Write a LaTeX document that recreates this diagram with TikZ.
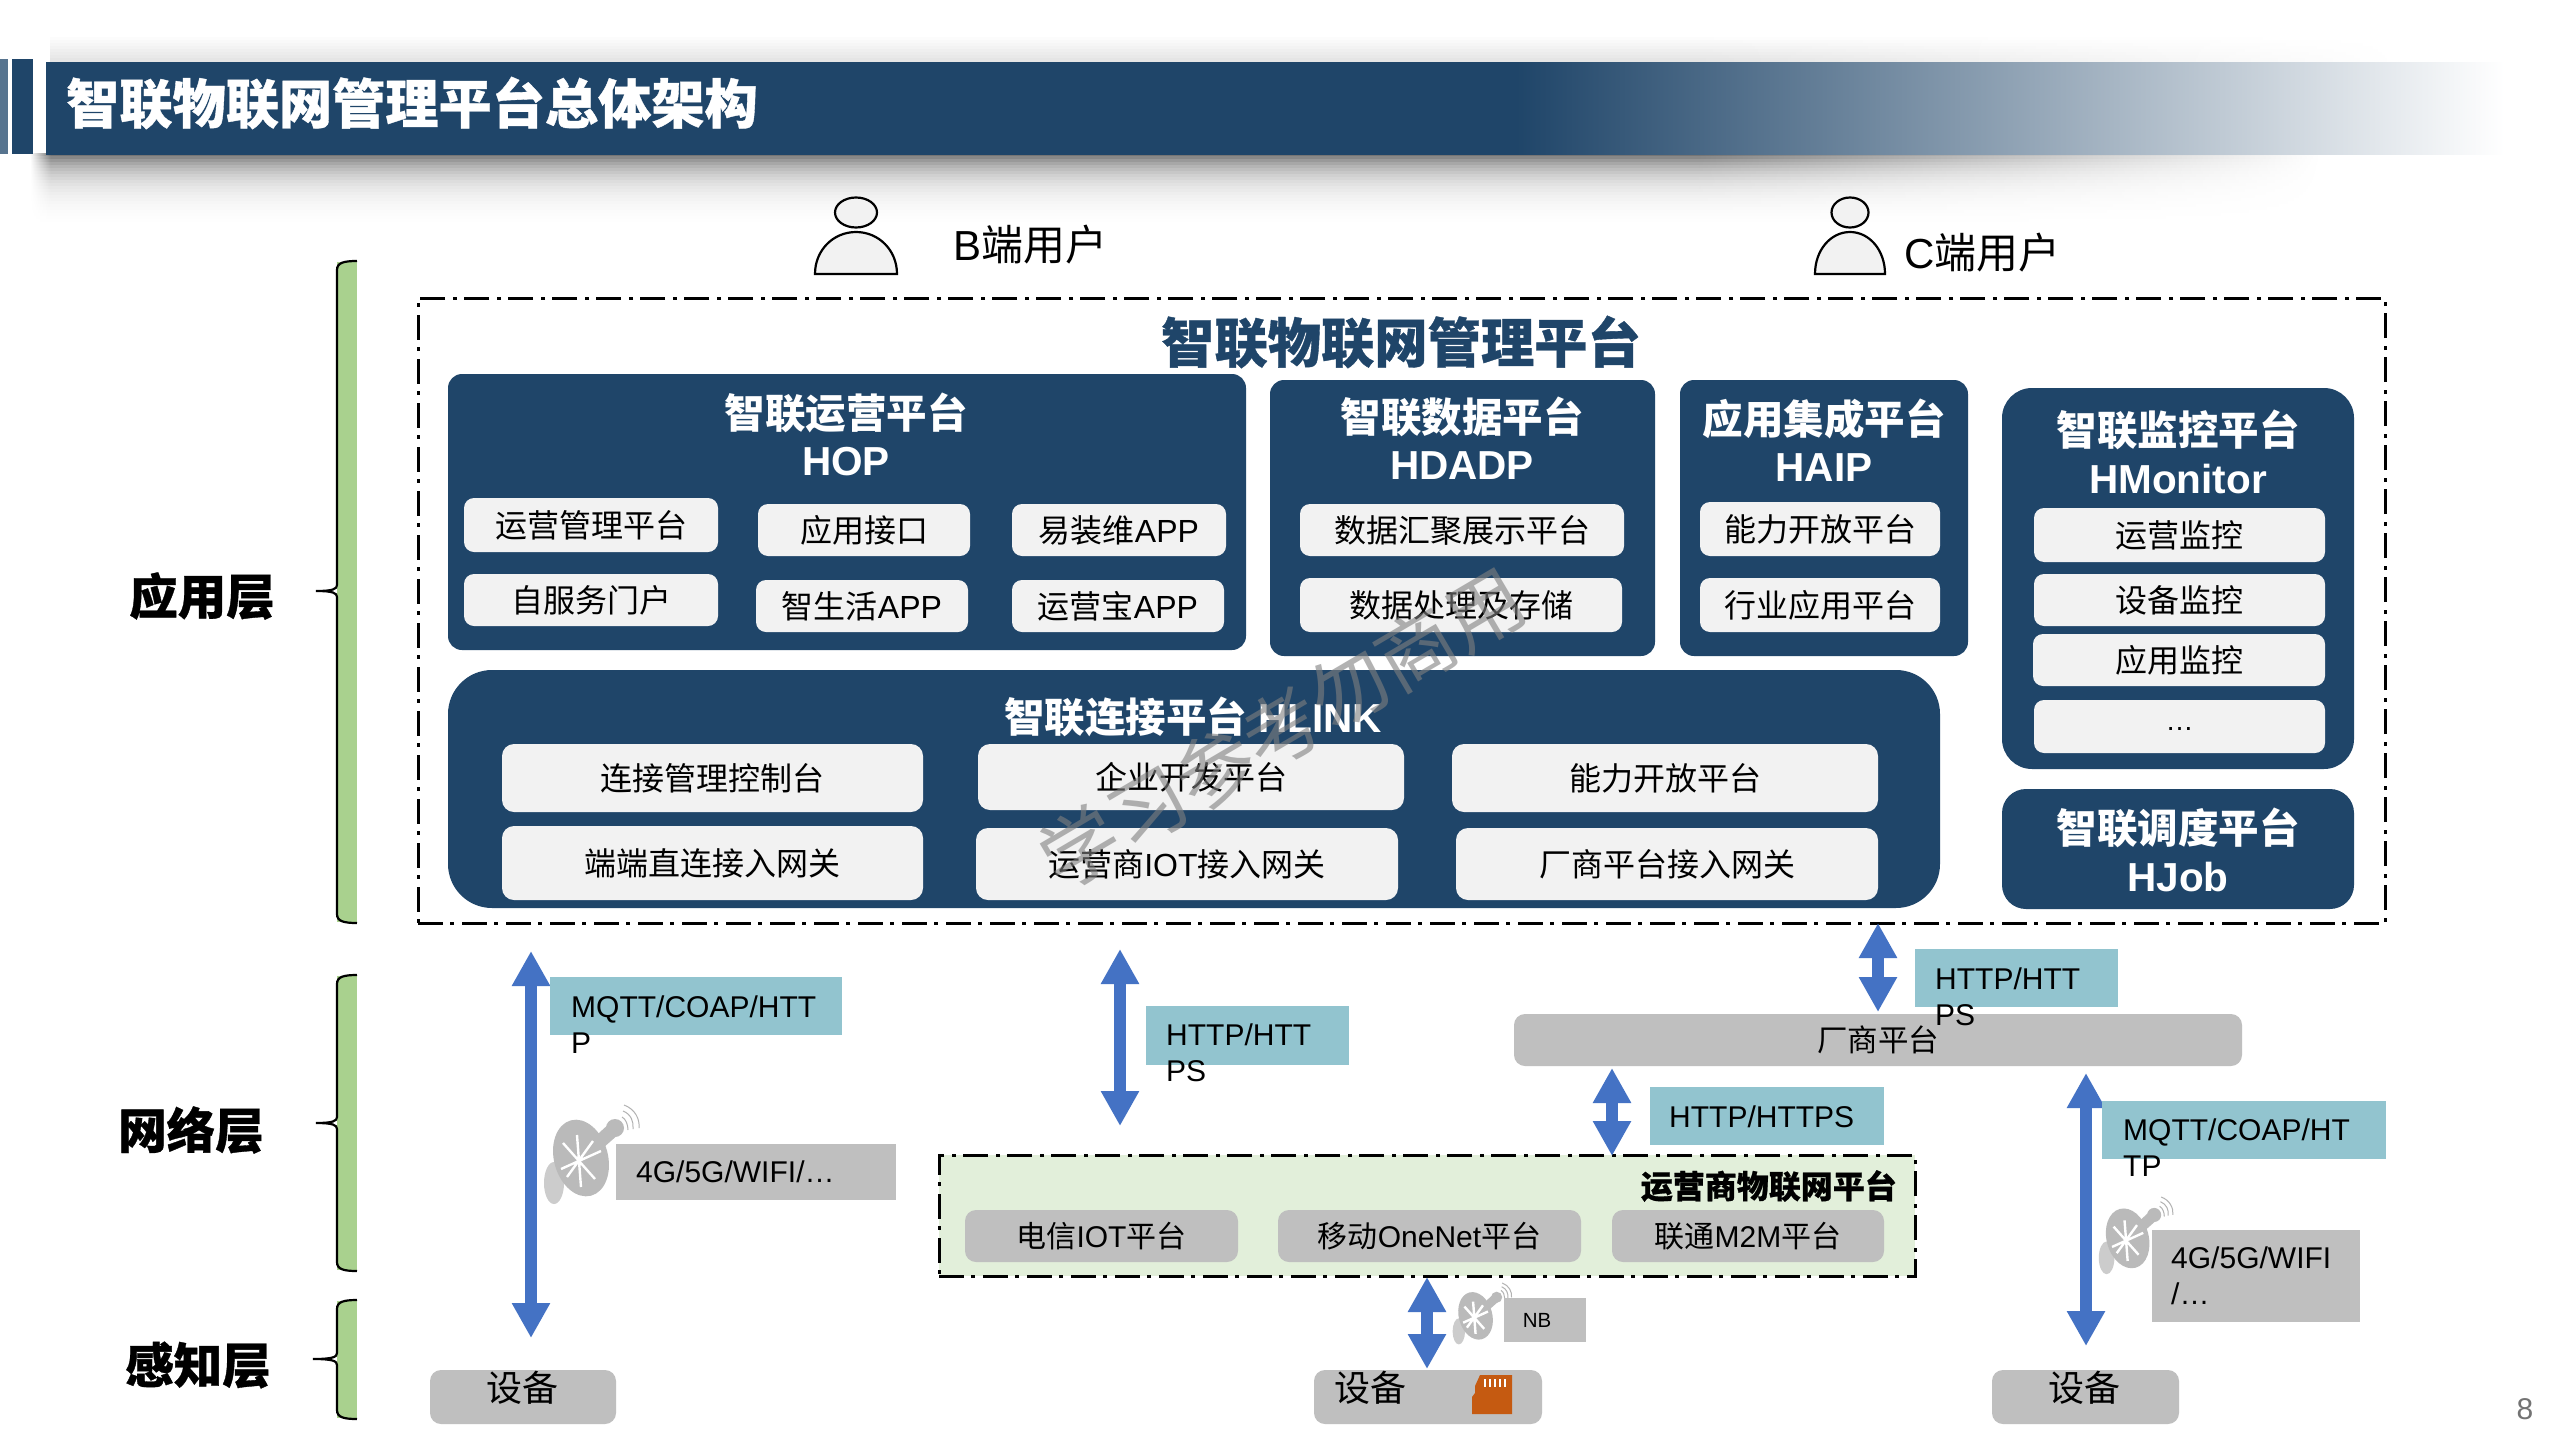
\documentclass[tikz,border=0pt]{standalone}
\usepackage{fontspec}
\usetikzlibrary{arrows.meta,shapes.geometric}
\setmainfont{Liberation Sans}
\newfontfamily\cjk{Noto Sans CJK SC}
\newfontfamily\cjkheavy[BoldFeatures={FakeBold=0.7}]{Noto Sans CJK SC}
\newcommand\zh[1]{{\cjk #1}}
\newcommand\fs[1]{\fontsize{#1}{#1}\selectfont}
\definecolor{navy}{HTML}{1F4569}
\definecolor{panel}{HTML}{F2F2F2}
\definecolor{steel}{HTML}{BFBFBF}
\definecolor{teal}{HTML}{92C4CF}
\definecolor{leaf}{HTML}{A9D18E}
\definecolor{pale}{HTML}{E2EFDA}
\definecolor{flow}{HTML}{4472C4}
\definecolor{chip}{HTML}{C55A11}
% the path's extent spans 25bp to 75bp of a TikZ shading
\pgfdeclarehorizontalshading{bandfade}{100bp}{color(0bp)=(navy); color(54.9bp)=(navy); color(75bp)=(white); color(100bp)=(white)}
\tikzset{
  platform/.style={fill=navy,rounded corners=14pt,inner sep=0pt,outer sep=0pt},
  module/.style={fill=panel,rounded corners=10pt,inner sep=0pt,outer sep=0pt,font=\cjk\fs{32}},
  hubmodule/.style={module,rounded corners=12pt},
  carrier/.style={fill=steel,rounded corners=11pt,inner sep=0pt,outer sep=0pt,font=\fs{30}},
  tealtag/.style={fill=teal,inner sep=0pt,outer sep=0pt},
  greytag/.style={fill=steel,inner sep=0pt,outer sep=0pt},
  device/.style={fill=steel,rounded corners=11pt,inner sep=0pt,outer sep=0pt},
  dashframe/.style={draw=black,line width=3pt,dash pattern=on 25pt off 7pt on 4pt off 8pt,inner sep=0pt,outer sep=0pt},
  headline/.style={text=white,inner sep=0pt,align=center,font=\bfseries\fs{40.5}},
  proto/.style={inner sep=0pt,anchor=west,align=left,font=\fontsize{30}{36}\selectfont},
  sidelabel/.style={inner sep=0pt,font=\cjkheavy\bfseries\fs{48.5}},
  duplex/.style={draw=flow,line width=12pt,
                 {Triangle[width=36pt,length=35pt]}-{Triangle[width=36pt,length=35pt]}},
  dish/.pic={
    \fill[black!20] (11,78) ellipse [x radius=10,y radius=21];
    \fill[black!27,rotate around={15:(38,53)}] (38,53) ellipse [x radius=27,y radius=39];
    \fill[black!27] (33,49) -- (68,17) -- (77,28) -- (43,58) -- cycle;
    \fill[black!27] (72,23) circle [radius=9];
    \draw[white,line width=2.4pt] (20,38) -- (52,74) (34,30) -- (38,82) (18,64) -- (58,46) (24,72) -- (50,36);
    \foreach \a/\b/\c/\d/\e/\f/\g/\h in {81/0/92/4/97/14/96/23, 80/6/88/9/91/17/90/24, 79/12/83/14/85/20/85/25}
      \draw[black!30,line width=1pt] (\a,\b) .. controls (\c,\d) and (\e,\f) .. (\g,\h);
  }
}
% box given by its left, top, right and bottom edges
\newcommand\rbox[7]{\node[#2,minimum width={#5-#3},minimum height={#6-#4}] (#1) at ({(#3+#5)/2},{(#4+#6)/2}) {#7};}
% layer bracket: top, tick and bottom heights, tick tip
\newcommand\layerbrace[4]{
  \fill[leaf] (337,#1+1) rectangle (357,#3-1);
  \draw[line width=2.2pt] (357,#1) .. controls (343,#1) and (337,#1+2) .. (337,#1+9)
     -- (337,#2-6) .. controls (337,#2-2) and (333,#2) .. (#4,#2)
     .. controls (333,#2) and (337,#2+2) .. (337,#2+6)
     -- (337,#3-9) .. controls (337,#3-2) and (343,#3) .. (357,#3);
}
% user glyph: centre x, head half width, body half width
\newcommand\persona[3]{
  \draw[fill=panel,line width=2.2pt] (#1,212.5) ellipse [x radius=#2,y radius=15];
  \draw[fill=panel,line width=2.2pt] (#1-#3,274) .. controls (#1-#3,250) and (#1-#3*0.55,232) .. (#1,232)
     .. controls (#1+#3*0.55,232) and (#1+#3,250) .. (#1+#3,274) -- cycle;
}
\begin{document}
\begin{tikzpicture}[x=1pt,y=-1pt]
\useasboundingbox (0,0) rectangle (2560,1440);
\fill[white] (0,0) rectangle (2560,1440);

% title band with its soft shadow
\foreach \k in {0,...,24}{
  \pgfmathsetmacro\lvl{max(0,56*exp(-\k/7)-2)}
  \fill[black!\lvl] (50,{153+3*\k}) rectangle (1700,{156.5+3*\k});
  \shade[left color=black!\lvl,right color=white] (1699,{153+3*\k}) rectangle (2320,{156.5+3*\k});
  \shade[left color=white,right color=black!\lvl] (30,{153+3*\k}) rectangle (50.5,{156.5+3*\k});
}
\foreach \k in {0,...,7}{
  \pgfmathsetmacro\lvl{1+1.3*\k}
  \fill[black!\lvl] (50,{37+3*\k}) rectangle (1700,{40.5+3*\k});
  \shade[left color=black!\lvl,right color=white] (1699,{37+3*\k}) rectangle (2400,{40.5+3*\k});
}
\path[shading=bandfade] (46,62) rectangle (2504,154);
\fill[navy!75] (0,59) rectangle (8,154);
\fill[navy] (12,59) rectangle (33,154);
\node[anchor=west,inner sep=0pt,text=white,font=\cjkheavy\bfseries\fs{53.2}] (pagetitle) at (66,103) {智联物联网管理平台总体架构};

% layer brackets and their names
\layerbrace{261}{591}{923}{316}
\layerbrace{975}{1123}{1271}{316}
\layerbrace{1300}{1359}{1419}{313}
\node[sidelabel] (layerapp) at (202,596) {应用层};
\node[sidelabel] (layernet) at (191,1130) {网络层};
\node[sidelabel] (layersense) at (198,1365) {感知层};

% users
\persona{856}{21}{41}
\persona{1850}{18.5}{35}
\node[inner sep=0pt,anchor=west,font=\fs{42}] (buser) at (953,245) {B\zh{端用户}};
\node[inner sep=0pt,anchor=west,font=\fs{42}] (cuser) at (1904,253) {C\zh{端用户}};

% management platform frame
\rbox{frame}{dashframe}{418}{298}{2385}{923}{}
\node[inner sep=0pt,text=navy,font=\cjkheavy\bfseries\fs{53.3}] (maintitle) at (1401,342) {智联物联网管理平台};

% operations platform
\rbox{hop}{platform}{448}{374}{1246}{650}{}
\node[headline,font=\bfseries\fontsize{40.5}{47}\selectfont] (hoptitle) at (846,434.5) {\zh{智联运营平台}\\HOP};
\rbox{hopa}{module}{464}{498}{718}{552}{运营管理平台}
\rbox{hopb}{module}{464}{574}{718}{626}{自服务门户}
\rbox{hopc}{module}{758}{504}{970}{556}{应用接口}
\rbox{hopd}{module}{1012}{504}{1226}{556}{易装维\fontspec{Liberation Sans}APP}
\rbox{hope}{module}{756}{580}{968}{632}{智生活\fontspec{Liberation Sans}APP}
\rbox{hopf}{module}{1012}{580}{1224}{632}{运营宝\fontspec{Liberation Sans}APP}

% data platform
\rbox{hdadp}{platform}{1270}{380}{1655}{656}{}
\node[headline,font=\bfseries\fontsize{40.5}{47}\selectfont] (hdadptitle) at (1462,438) {\zh{智联数据平台}\\HDADP};
\rbox{hdadpa}{module}{1300}{504}{1624}{556}{数据汇聚展示平台}
\rbox{hdadpb}{module}{1300}{578}{1622}{632}{数据处理及存储}

% integration platform
\rbox{haip}{platform}{1680}{380}{1968}{656}{}
\node[headline,font=\bfseries\fontsize{40.5}{47}\selectfont] (haiptitle) at (1824,440.5) {\zh{应用集成平台}\\HAIP};
\rbox{haipa}{module}{1700}{502}{1940}{556}{能力开放平台}
\rbox{haipb}{module}{1700}{578}{1940}{632}{行业应用平台}

% monitoring platform
\rbox{hmon}{platform,rounded corners=30pt}{2002}{388}{2354}{769}{}
\node[headline,font=\bfseries\fontsize{40.5}{48}\selectfont] (hmontitle) at (2178,452) {\zh{智联监控平台}\\HMonitor};
\rbox{hmona}{module}{2034}{508}{2325}{562}{运营监控}
\rbox{hmonb}{module}{2034}{574}{2325}{626}{设备监控}
\rbox{hmonc}{module}{2033}{634}{2325}{686}{应用监控}
\rbox{hmond}{module,font=\fs{28}}{2034}{700}{2325}{753}{\raisebox{-7pt}{…}}

% scheduling platform
\rbox{hjob}{platform,rounded corners=24pt}{2002}{789}{2354}{909}{}
\node[headline,font=\bfseries\fontsize{40.5}{48}\selectfont] (hjobtitle) at (2178,850) {\zh{智联调度平台}\\HJob};

% connection platform
\rbox{hlink}{platform,rounded corners=44pt}{448}{670}{1940}{908}{}
\node[headline] (hlinktitle) at (1193,717) {\zh{智联连接平台} HLINK};
\rbox{hlinka}{hubmodule}{502}{744}{923}{812}{连接管理控制台}
\rbox{hlinkb}{hubmodule}{502}{826}{923}{900}{端端直连接入网关}
\rbox{hlinkc}{hubmodule}{978}{744}{1404}{810}{企业开发平台}
\rbox{hlinkd}{hubmodule}{976}{828}{1398}{900}{运营商\fontspec{Liberation Sans}IOT\cjk 接入网关}
\rbox{hlinke}{hubmodule}{1452}{744}{1878}{812}{能力开放平台}
\rbox{hlinkf}{hubmodule}{1456}{828}{1878}{900}{厂商平台接入网关}

% vendor platform bar
\rbox{vendor}{carrier,font=\cjk\fs{30}}{1514}{1014}{2242}{1066}{}
\node[inner sep=0pt,font=\cjk\fs{30.5}] (vendortext) at (1878,1040) {厂商平台};

% operator platforms
\rbox{opframe}{dashframe,fill=pale}{939}{1155}{1915}{1276}{}
\node[inner sep=0pt,anchor=east,font=\cjkheavy\bfseries\fs{32}] (optitle) at (1897,1186) {运营商物联网平台};
\rbox{opa}{carrier}{965}{1210}{1238}{1262}{\zh{电信}IOT\zh{平台}}
\rbox{opb}{carrier}{1278}{1210}{1581}{1262}{\zh{移动}OneNet\zh{平台}}
\rbox{opc}{carrier}{1612}{1210}{1884}{1262}{\zh{联通}M2M\zh{平台}}

% devices
\rbox{deva}{device}{430}{1370}{616}{1424}{}
\rbox{devb}{device}{1314}{1370}{1542}{1424}{}
\rbox{devc}{device}{1992}{1370}{2179}{1424}{}
\node[inner sep=0pt,font=\cjk\fs{36}] (devatext) at (522,1388) {设备};
\node[inner sep=0pt,font=\cjk\fs{36}] (devbtext) at (1370,1388) {设备};
\node[inner sep=0pt,font=\cjk\fs{36}] (devctext) at (2084,1388) {设备};
\fill[chip] (1472,1397) -- (1475,1393) -- (1475,1386) -- (1480,1375) -- (1512,1375) -- (1512,1414) -- (1472,1414) -- cycle;
\foreach \cx in {1485,1490,1495,1500,1505}
  \draw[white,line width=2.2pt] (\cx,1379) -- (\cx,1387);

% transport links
\coordinate (lka) at (531,951);   \coordinate (lkb) at (531,1338);
\coordinate (lkc) at (1120,949);  \coordinate (lkd) at (1120,1126);
\coordinate (lke) at (1878,923);  \coordinate (lkf) at (1878,1012);
\coordinate (lkg) at (1612,1068); \coordinate (lkh) at (1612,1156);
\coordinate (lki) at (1427,1277); \coordinate (lkj) at (1427,1369);
\coordinate (lkk) at (2086,1073); \coordinate (lkl) at (2086,1346);
\draw[duplex] (lka) -- (lkb);
\draw[duplex] (lkc) -- (lkd);
\draw[duplex] (lke) -- (lkf);
\draw[duplex] (lkg) -- (lkh);
\draw[duplex] (lki) -- (lkj);
\draw[duplex] (lkk) -- (lkl);

% protocol tags
\rbox{tagm}{tealtag}{550}{977}{842}{1035}{}
\node[proto] (tagmtext) at (571,1025) {MQTT/COAP/HTT\\P};
\rbox{tagh}{tealtag}{1146}{1006}{1349}{1065}{}
\node[proto] (taghtext) at (1166,1053) {HTTP/HTT\\PS};
\rbox{tagv}{tealtag}{1915}{949}{2118}{1007}{}
\node[proto] (tagvtext) at (1935,997) {HTTP/HTT\\PS};
\rbox{tags}{tealtag}{1650}{1087}{1884}{1145}{}
\node[proto] (tagstext) at (1669,1117) {HTTP/HTTPS};
\rbox{tagr}{tealtag}{2102}{1101}{2386}{1159}{}
\node[proto] (tagrtext) at (2123,1148) {MQTT/COAP/HT\\TP};

% radio links
\pic at (543,1105) {dish};
\rbox{radioa}{greytag}{616}{1144}{896}{1200}{}
\node[proto] (radioatext) at (636,1172) {4G/5G/WIFI/…};
\pic[scale=0.62] at (1452,1283) {dish};
\rbox{radiob}{greytag}{1504}{1298}{1586}{1342}{}
\node[inner sep=0pt,font=\fs{20.5}] (radiobtext) at (1537,1320) {NB};
\pic[scale=0.78] at (2098,1197) {dish};
\rbox{radioc}{greytag}{2152}{1230}{2360}{1322}{}
\node[proto] (radioctext) at (2171,1276) {4G/5G/WIFI\\/…};

% page number
\node[inner sep=0pt,text=black!55,font=\fs{30}] (pageno) at (2525,1409) {8};

% notice printed across the platform panels
\node[inner sep=0pt,rotate=30.5,text=black!50,opacity=.6,font=\cjk\fs{78}] (notice) at (1282,728) {学习参考勿商用};
\end{tikzpicture}
\end{document}
